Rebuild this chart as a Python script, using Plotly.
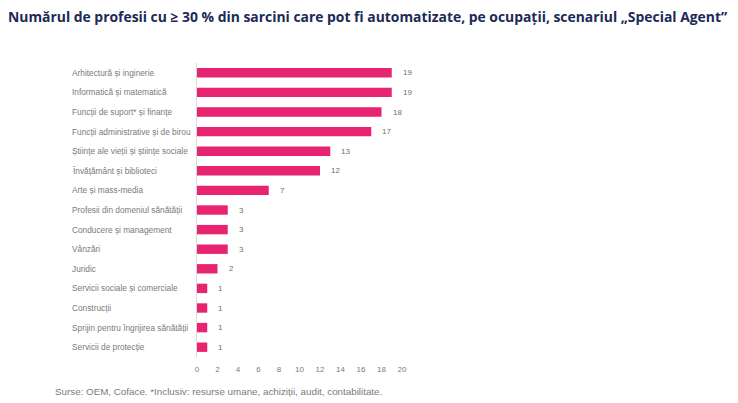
import plotly.graph_objects as go

categories = [
    "Arhitectură și inginerie",
    "Informatică și matematică",
    "Funcții de suport* și finanțe",
    "Funcții administrative și de birou",
    "Științe ale vieții și științe sociale",
    "Învățământ și biblioteci",
    "Arte și mass-media",
    "Profesii din domeniul sănătății",
    "Conducere și management",
    "Vânzări",
    "Juridic",
    "Servicii sociale și comerciale",
    "Construcții",
    "Sprijin pentru îngrijirea sănătății",
    "Servicii de protecție",
]
values = [19, 19, 18, 17, 13, 12, 7, 3, 3, 3, 2, 1, 1, 1, 1]
x_ticks = [0, 2, 4, 6, 8, 10, 12, 14, 16, 18, 20]

title = "Numărul de profesii cu ≥ 30 % din sarcini care pot fi automatizate, pe ocupații, scenariul „Special Agent”"
source = "Surse: OEM, Coface. *Inclusiv: resurse umane, achiziții, audit, contabilitate."

W, H = 738, 403
ml, mr, mt, mb = 189, 344, 55, 54
plot_w = W - ml - mr
plot_h = H - mt - mb

fig = go.Figure()
fig.add_trace(go.Bar(
    x=values, y=categories, orientation="h",
    marker=dict(color="#e8236f", line=dict(width=0)),
    width=0.48, hoverinfo="skip",
))

annotations = []
for c, v in zip(categories, values):
    annotations.append(dict(
        x=v, y=c, xref="x", yref="y", text=str(v), showarrow=False,
        xanchor="left", xshift=9, font=dict(size=8, color="#6f6f6f", family="Liberation Sans"),
    ))
    annotations.append(dict(
        x=(62 - ml) / plot_w, y=c, xref="paper", yref="y", text=c, showarrow=False,
        xanchor="left", font=dict(size=8.3, color="#7a7a7a", family="Liberation Sans"),
    ))
annotations.append(dict(
    x=(45 - ml) / plot_w, y=-(383 - (H - mb)) / plot_h, xref="paper", yref="paper",
    text=source, showarrow=False, xanchor="left", yanchor="middle",
    font=dict(size=9.8, color="#7a7a7a", family="Liberation Sans"),
))

fig.update_layout(
    width=W, height=H,
    margin=dict(l=ml, r=mr, t=mt, b=mb),
    paper_bgcolor="white", plot_bgcolor="white",
    showlegend=False,
    title=dict(text="<b>" + title + "</b>", x=0, xanchor="left", xref="container",
               y=1 - 9 / H, yanchor="middle", yref="container",
               font=dict(size=13.9, color="#1b2a57", family="Open Sans")),
    xaxis=dict(range=[0, 20], tickvals=x_ticks, showgrid=False, zeroline=False,
               showline=False, ticks="", tickfont=dict(size=8, color="#7a7a7a", family="Liberation Sans"),
               ticklabelstandoff=6),
    yaxis=dict(autorange="reversed", showticklabels=False, ticks="", showgrid=False,
               showline=True, linecolor="#d9d9d9", linewidth=1, zeroline=False),
    annotations=annotations,
)

fig.write_html("out.html")
